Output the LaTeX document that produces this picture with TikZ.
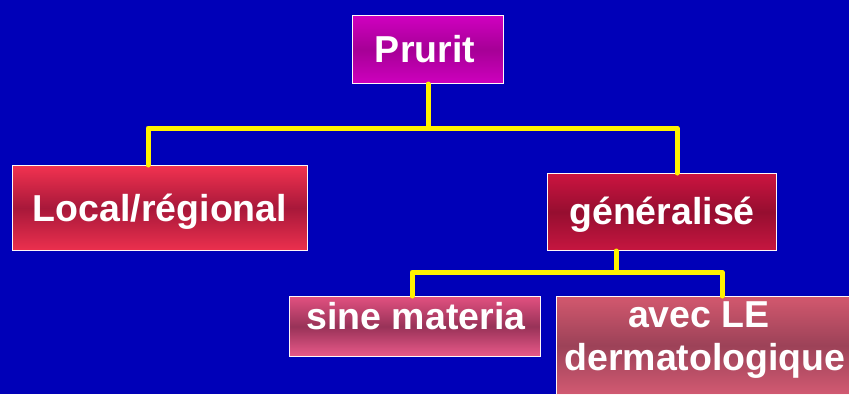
\documentclass[tikz,border=0pt]{standalone}
\usepackage{fontspec}
\setmainfont{Liberation Sans}
\begin{document}
\begin{tikzpicture}[x=1pt,y=1pt,
  box/.style={rectangle, draw=white!88!pink, line width=1pt, inner sep=0pt,
    anchor=north west, shading=axis},
  lbl/.style={text=white, font=\fontsize{37.5}{43}\selectfont\bfseries, inner sep=0pt, align=center},
  conn/.style={draw=yellow, line width=5pt, line cap=round, line join=round}]
\definecolor{bg}{RGB}{0,0,184}
% background
\fill[bg] (0,0) rectangle (849,-394);
\useasboundingbox (0,0) rectangle (849,-394);

% boxes
\node[box, minimum width=151pt, minimum height=68pt,
  top color={rgb,255:red,208;green,0;blue,192}, bottom color={rgb,255:red,206;green,0;blue,190},
  middle color={rgb,255:red,166;green,0;blue,150}] (prurit) at (352,-15) {};
\node[lbl] at ([xshift=-3pt]prurit.center) {Prurit};

\node[box, minimum width=295pt, minimum height=85pt,
  top color={rgb,255:red,242;green,50;blue,80}, bottom color={rgb,255:red,236;green,48;blue,78},
  middle color={rgb,255:red,168;green,24;blue,58}] (local) at (12,-165) {};
\node[lbl] at ([yshift=-4pt]local.center) {Local/régional};

\node[box, minimum width=229pt, minimum height=77pt,
  top color={rgb,255:red,204;green,20;blue,64}, bottom color={rgb,255:red,198;green,22;blue,64},
  middle color={rgb,255:red,150;green,14;blue,48}] (gen) at (547,-173) {};
\node[lbl] at ([yshift=-3pt]gen.center) {généralisé};

\node[box, minimum width=251pt, minimum height=60pt,
  top color={rgb,255:red,226;green,80;blue,128}, bottom color={rgb,255:red,234;green,90;blue,138},
  middle color={rgb,255:red,152;green,50;blue,88}] (sine) at (289,-296) {};
\node[lbl, anchor=base] at (416,-329) {sine materia};

\node[box, minimum width=298pt, minimum height=98pt,
  top color={rgb,255:red,210;green,88;blue,110}, bottom color={rgb,255:red,210;green,90;blue,114},
  middle color={rgb,255:red,156;green,66;blue,88}] (avec) at (556,-296) {};
\node[lbl, anchor=base] at (699,-327) {avec LE};
\node[lbl, anchor=base] at (705,-370) {dermatologique};

% connector points
\coordinate (busA) at (0,-128);
\coordinate (busB) at (0,-272);
\coordinate (dropLocal) at (148,0);
\coordinate (dropGen) at (677,0);
\coordinate (dropSine) at (412,0);
\coordinate (dropAvec) at (722,0);
\coordinate (upGen) at (616,0);

% connectors
\draw[conn] (dropLocal |- local.north) -- (dropLocal |- busA) -- (dropGen |- busA) -- (dropGen |- gen.north);
\draw[conn] (prurit.south) -- (prurit.south |- busA);
\draw[conn] (dropSine |- sine.north) -- (dropSine |- busB) -- (dropAvec |- busB) -- (dropAvec |- avec.north);
\draw[conn] (upGen |- gen.south) -- (upGen |- busB);
\end{tikzpicture}
\end{document}
